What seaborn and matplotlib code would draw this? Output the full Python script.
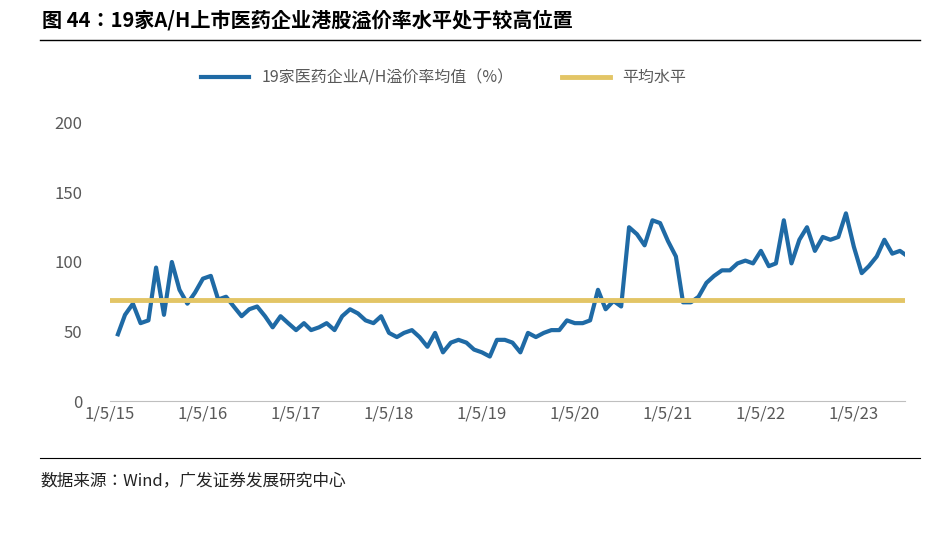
import pandas as pd
import matplotlib.pyplot as plt
import seaborn as sns

plt.rcParams["font.family"] = ["Noto Sans CJK SC", "Noto Sans CJK JP", "Noto Sans CJK TC", "DejaVu Sans"]

# monthly readings of the premium (%) from Jan 2015 to Jul 2023
vals_2015 = [48, 62, 70, 56, 58, 96, 62, 100, 80, 70, 78, 88]
vals_2016 = [90, 73, 75, 68, 61, 66, 68, 61, 53, 61, 56, 51]
vals_2017 = [56, 51, 53, 56, 51, 61, 66, 63, 58, 56, 61, 49]
vals_2018 = [46, 49, 51, 46, 39, 49, 35, 42, 44, 42, 37, 35]
vals_2019 = [32, 44, 44, 42, 35, 49, 46, 49, 51, 51, 58, 56]
vals_2020 = [56, 58, 80, 66, 72, 68, 125, 120, 112, 130, 128, 115]
vals_2021 = [104, 71, 71, 75, 85, 90, 94, 94, 99, 101, 99, 108]
vals_2022 = [97, 99, 130, 99, 116, 125, 108, 118, 116, 118, 135, 111]
vals_2023 = [92, 97, 104, 116, 106, 108, 104]
mean_level = 73

values = vals_2015 + vals_2016 + vals_2017 + vals_2018 + vals_2019 + vals_2020 + vals_2021 + vals_2022 + vals_2023
dates = pd.date_range("2015-01-05", periods=len(values), freq="MS") + pd.Timedelta(days=4)
df = pd.DataFrame({"date": dates, "premium": values})

tick_dates = pd.to_datetime([f"20{y}-01-05" for y in range(15, 24)])
tick_labels = [f"1/5/{y}" for y in range(15, 24)]

fig = plt.figure(figsize=(9.35, 5.42), dpi=100)
ax = fig.add_axes([110 / 935, 141 / 542, 795 / 935, 278 / 542])

sns.lineplot(data=df, x="date", y="premium", ax=ax, color="#1f6aa5", linewidth=3,
             label="19家医药企业A/H溢价率均值（%）")
ax.axhline(mean_level, color="#e3c566", linewidth=3.5, label="平均水平")

ax.set_xlim(pd.Timestamp("2015-01-05"), pd.Timestamp("2023-07-25"))
ax.set_ylim(0, 200)
ax.set_yticks([0, 50, 100, 150, 200])
ax.set_xticks(tick_dates)
ax.set_xticklabels(tick_labels)
ax.set_xlabel("")
ax.set_ylabel("")
ax.tick_params(colors="#595959", labelsize=12, length=0)
ax.tick_params(axis="y", pad=20)
for s in ["top", "right", "left"]:
    ax.spines[s].set_visible(False)
ax.spines["bottom"].set_color("#bfbfbf")

ax.legend(loc="lower center", bbox_to_anchor=(0.42, 1.08), ncol=2, frameon=False,
          fontsize=11.5, labelcolor="#595959", columnspacing=3, handlelength=3)

fig.text(42 / 935, 1 - 20 / 542, "图 44：19家A/H上市医药企业港股溢价率水平处于较高位置",
         fontsize=14.5, fontweight="bold", va="center", ha="left")
fig.add_artist(plt.Line2D([40 / 935, 920 / 935], [1 - 40 / 542] * 2, color="black", linewidth=1))
fig.add_artist(plt.Line2D([40 / 935, 920 / 935], [1 - 458 / 542] * 2, color="black", linewidth=0.8))
fig.text(40 / 935, 1 - 481 / 542, "数据来源：Wind，广发证券发展研究中心", fontsize=12,
         va="center", ha="left", color="#222222")

fig.savefig("out.png", dpi=100)
